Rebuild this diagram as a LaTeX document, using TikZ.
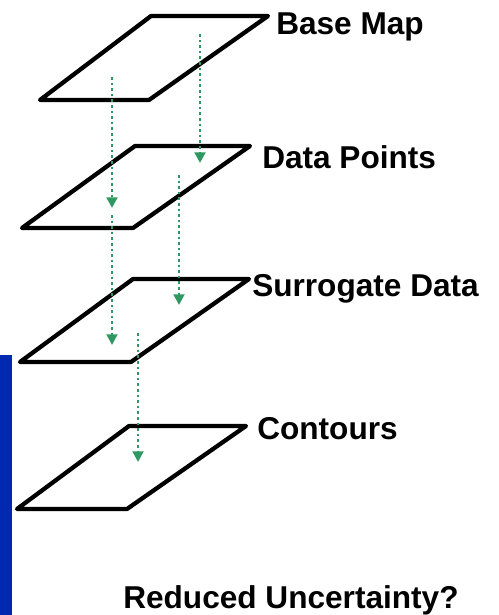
\documentclass[tikz,border=0pt]{standalone}
\usepackage{fontspec}
\setmainfont{Liberation Sans}
\usetikzlibrary{arrows.meta}
\definecolor{flowgreen}{RGB}{46,152,98}
\definecolor{barblue}{RGB}{0,40,176}
\tikzset{
  plane/.style={draw=black, line width=3.2pt, line join=round, line cap=round},
  label/.style={anchor=base west, inner sep=0pt, font=\bfseries\fontsize{23.7}{28}\selectfont},
  flow/.style={draw=flowgreen, line width=2pt, dash pattern=on 2pt off 2.2pt,
    -{Triangle[width=8pt,length=8pt,fill=flowgreen]}},
}
\begin{document}
\begin{tikzpicture}[x=0.75pt,y=-0.75pt]
\useasboundingbox (0,0) rectangle (499,615);
% side bar
\fill[barblue] (0,355) rectangle (12,615);

% the four stacked layers
\draw[plane] (151,16) -- (268,16) -- (149,100) -- (40,100) -- cycle;
\draw[plane] (135,146) -- (250,146) -- (133,228) -- (22,228) -- cycle;
\draw[plane] (133,279) -- (249,279) -- (131,362) -- (20,362) -- cycle;
\draw[plane] (129,426) -- (246,426) -- (127,509) -- (17,509) -- cycle;

% layer labels
\node[label] (base) at (276,34) {Base Map};
\node[label] (data) at (262,168) {Data Points};
\node[label] (surr) at (252,296) {Surrogate Data};
\node[label] (cont) at (257,439) {Contours};
\node[label] (result) at (123,608) {Reduced Uncertainty?};

% flow between layers
\coordinate (a1s) at (200,34);  \coordinate (a1e) at (200,163);
\coordinate (a2s) at (112,77);  \coordinate (a2e) at (112,208);
\coordinate (a3s) at (179,175); \coordinate (a3e) at (179,305);
\coordinate (a4s) at (112,215); \coordinate (a4e) at (112,345);
\coordinate (a5s) at (138,333); \coordinate (a5e) at (138,462);
\draw[flow] (a1s) -- (a1e);
\draw[flow] (a2s) -- (a2e);
\draw[flow] (a3s) -- (a3e);
\draw[flow] (a4s) -- (a4e);
\draw[flow] (a5s) -- (a5e);
\end{tikzpicture}
\end{document}
